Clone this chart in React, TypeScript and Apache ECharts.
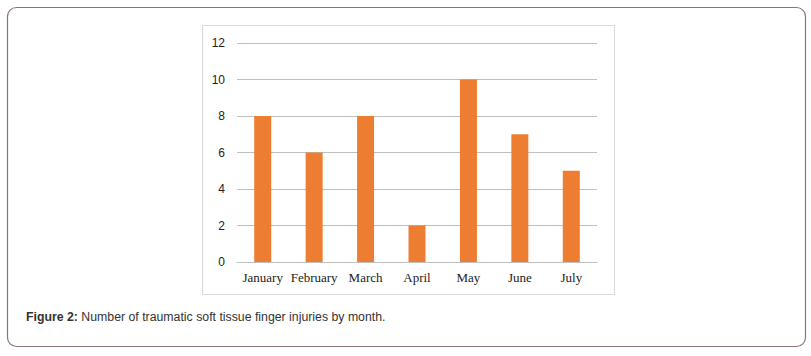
import React, { useEffect, useRef } from "react";
import * as echarts from "echarts";

const months = ["January", "February", "March", "April", "May", "June", "July"];
const injuries = [8, 6, 8, 2, 10, 7, 5];
const captionBold = "Figure 2:";
const captionText = " Number of traumatic soft tissue finger injuries by month.";

export default function App() {
  const ref = useRef<HTMLDivElement>(null);
  useEffect(() => {
    const chart = echarts.init(ref.current!, null, { renderer: "svg" });
    chart.setOption({
      animation: false,
      backgroundColor: "#ffffff",
      graphic: [
        {
          type: "rect",
          shape: { x: 7.5, y: 7.5, width: 798, height: 339, r: 9 },
          style: { fill: "none", stroke: "#8e7373", lineWidth: 1.2 },
          silent: true,
        },
        {
          type: "rect",
          shape: { x: 202.5, y: 25.5, width: 412, height: 269 },
          style: { fill: "none", stroke: "#d9d9d9", lineWidth: 1 },
          silent: true,
        },
        {
          type: "text",
          x: 26,
          y: 311,
          style: {
            text: `{b|${captionBold}}{n|${captionText}}`,
            rich: {
              b: { fontFamily: "Liberation Sans, Arial", fontWeight: "bold", fontSize: 12.3, fill: "#333" },
              n: { fontFamily: "Liberation Sans, Arial", fontSize: 12.3, fill: "#333" },
            },
          },
        },
      ],
      grid: { left: 237, right: 214, top: 43, bottom: 94, containLabel: false },
      xAxis: {
        type: "category",
        data: months,
        axisLine: { lineStyle: { color: "#bfbfbf" } },
        axisTick: { show: false },
        axisLabel: { interval: 0, color: "#222", fontFamily: "Liberation Serif", fontSize: 13, margin: 9 },
      },
      yAxis: {
        type: "value",
        min: 0,
        max: 12,
        interval: 2,
        axisLine: { show: false },
        axisTick: { show: false },
        splitLine: { lineStyle: { color: "#bfbfbf" } },
        axisLabel: { color: "#222", fontFamily: "Liberation Sans, Arial", fontSize: 12, margin: 12 },
      },
      series: [
        {
          type: "bar",
          data: injuries,
          barWidth: 17,
          itemStyle: { color: "#ED7D31" },
        },
      ],
    });
    return () => chart.dispose();
  }, []);
  return (
    <div
      ref={ref}
      style={{ position: "absolute", left: 0, top: 0, width: 811, height: 356 }}
    />
  );
}
